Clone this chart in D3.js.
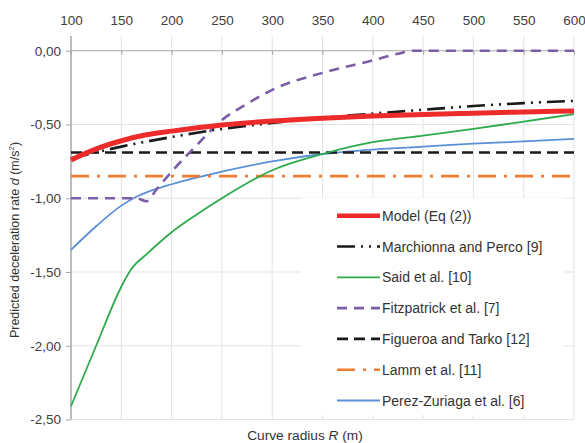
<!DOCTYPE html>
<html><head><meta charset="utf-8">
<script src="https://cdn.jsdelivr.net/npm/d3@7"></script>
<style>
html,body{margin:0;padding:0;background:#fff;}
svg{display:block;font-family:"Liberation Sans",Arial,sans-serif;}
</style></head>
<body>
<svg id="c" width="585" height="443"></svg>
<script>
// ---------- data ----------
const xTicks = [100,150,200,250,300,350,400,450,500,550,600];
const yTicks = [0,-0.5,-1,-1.5,-2,-2.5];
const yTickLabels = ["0,00","-0,50","-1,00","-1,50","-2,00","-2,50"];

const modelR = [100,125,150,175,200,250,300,350,400,450,500,550,600];
const modelD = [-0.74,-0.665,-0.61,-0.57,-0.545,-0.503,-0.477,-0.458,-0.443,-0.432,-0.423,-0.415,-0.408];

const marchR = [100,150,200,250,300,350,400,450,500,550,600];
const marchD = [-0.73,-0.65,-0.585,-0.53,-0.49,-0.455,-0.426,-0.40,-0.375,-0.355,-0.34];

const saidR = [100,125,150,160,175,200,225,250,300,350,400,450,500,550,600];
const saidD = [-2.41,-2.0,-1.60,-1.48,-1.38,-1.23,-1.11,-1.00,-0.81,-0.70,-0.62,-0.575,-0.53,-0.48,-0.43];

const fitzR = [100,165,175,185,200,225,250,275,300,350,400,425,440,450,600];
const fitzD = [-1.00,-1.00,-1.02,-0.94,-0.82,-0.64,-0.47,-0.36,-0.265,-0.15,-0.065,-0.02,0,0,0];

const figR = [100,600];
const figD = [-0.69,-0.69];

const lammR = [100,600];
const lammD = [-0.85,-0.85];

const perezR = [100,125,150,165,175,200,250,300,350,400,450,500,550,600];
const perezD = [-1.35,-1.19,-1.05,-0.99,-0.96,-0.905,-0.82,-0.75,-0.70,-0.67,-0.65,-0.63,-0.615,-0.598];

const seriesNames = ["Model (Eq (2))","Marchionna and Perco [9]","Said et al. [10]","Fitzpatrick et al. [7]","Figueroa and Tarko [12]","Lamm et al. [11]","Perez-Zuriaga et al. [6]"];
const seriesColors = ["#ee2b2b","#1a1a1a","#2eab4c","#7b5ea7","#1a1a1a","#ed7d31","#5b8fd6"];
const seriesWidths = [5,2.6,1.8,2.6,2.6,2.6,1.8];
const seriesDash = [null,"18,6,2,6,2,6",null,"10,7","11,6","18,8,3,8",null];

// ---------- build ----------
const series = [
  [modelR,modelD],[marchR,marchD],[saidR,saidD],[fitzR,fitzD],[figR,figD],[lammR,lammD],[perezR,perezD]
].map((p,i)=>({name:seriesNames[i],color:seriesColors[i],width:seriesWidths[i],dash:seriesDash[i],
  pts:p[0].map((r,j)=>({r:r,d:p[1][j]}))}));

const svg = d3.select("#c");
const x = d3.scaleLinear().domain([100,600]).range([71,574]);
const y = d3.scaleLinear().domain([-2.5,0.1]).range([419.5,36]);

// grid
const grid = svg.append("g");
grid.selectAll("line.v").data(xTicks.filter(t=>t!==100)).join("line")
  .attr("x1",d=>x(d)).attr("x2",d=>x(d)).attr("y1",y(0.1)).attr("y2",y(-2.5))
  .attr("stroke","#e3e3e3").attr("stroke-width",1);
grid.selectAll("line.h").data(yTicks.filter(t=>t!==0)).join("line")
  .attr("x1",x(100)).attr("x2",x(600)).attr("y1",d=>y(d)).attr("y2",d=>y(d))
  .attr("stroke","#e3e3e3").attr("stroke-width",1);

// top axis (labels) and zero line
const xAxisTop = d3.axisTop(x).tickValues(xTicks).tickSize(0).tickPadding(0).tickFormat(d3.format("d"));
const gx = svg.append("g").attr("transform","translate(0,25)").call(xAxisTop);
gx.select(".domain").remove();
gx.selectAll("text").attr("font-size",13.5).attr("fill","#404040").attr("font-family","Liberation Sans, Arial, sans-serif");

const zero = svg.append("g").attr("transform",`translate(0,${y(0)})`)
  .call(d3.axisBottom(x).tickValues(xTicks).tickSize(4).tickFormat(""));
zero.select(".domain").attr("stroke","#a6a6a6").attr("stroke-width",1.2).attr("d",`M${x(100)},0H${x(600)}`);
zero.selectAll(".tick line").attr("stroke","#a6a6a6");

// y axis
const gy = svg.append("g").attr("transform",`translate(${x(100)},0)`)
  .call(d3.axisLeft(y).tickValues(yTicks).tickSize(5).tickPadding(5).tickFormat((d,i)=>yTickLabels[i]));
gy.select(".domain").attr("stroke","#a6a6a6").attr("stroke-width",1.5).attr("d",`M0,${y(0.1)}V${y(-2.5)}`);
gy.selectAll(".tick line").attr("stroke","#a6a6a6");
gy.selectAll("text").attr("font-size",13.5).attr("fill","#404040").attr("font-family","Liberation Sans, Arial, sans-serif");

// lines
const line = d3.line().x(d=>x(d.r)).y(d=>y(d.d)).curve(d3.curveMonotoneX);
const order = [6,5,4,3,2,1,0];
svg.append("g").selectAll("path").data(order.map(i=>series[i])).join("path")
  .attr("d",d=>line(d.pts)).attr("fill","none")
  .attr("stroke",d=>d.color).attr("stroke-width",d=>d.width)
  .attr("stroke-dasharray",d=>d.dash);

// legend
const lg = svg.append("g");
lg.append("rect").attr("x",301).attr("y",198).attr("width",263).attr("height",217).attr("fill","#fff");
const items = lg.selectAll("g.it").data(series).join("g").attr("transform",(d,i)=>`translate(0,${215.7+i*30.8})`);
items.append("line").attr("x1",337).attr("x2",380).attr("y1",0).attr("y2",0)
  .attr("stroke",d=>d.color).attr("stroke-width",d=>Math.min(d.width,4.5))
  .attr("stroke-dasharray",d=>d.dash);
items.append("text").attr("x",382).attr("y",5).attr("font-size",14).attr("fill","#333")
  .text(d=>d.name);

// axis titles
svg.append("text").attr("x",305).attr("y",440).attr("text-anchor","middle").attr("font-size",13.7).attr("fill","#333")
  .call(t=>{t.append("tspan").text("Curve radius ");t.append("tspan").attr("font-style","italic").text("R");t.append("tspan").text(" (m)");});
svg.append("text").attr("transform","translate(19,240) rotate(-90)").attr("text-anchor","middle").attr("font-size",12.5).attr("fill","#333")
  .call(t=>{t.append("tspan").text("Predicted deceleration rate ");t.append("tspan").attr("font-style","italic").text("d");
    t.append("tspan").text(" (m/s");t.append("tspan").attr("font-size",8).attr("dy",-5).text("2");t.append("tspan").attr("dy",5).text(")");});
</script>
</body></html>
